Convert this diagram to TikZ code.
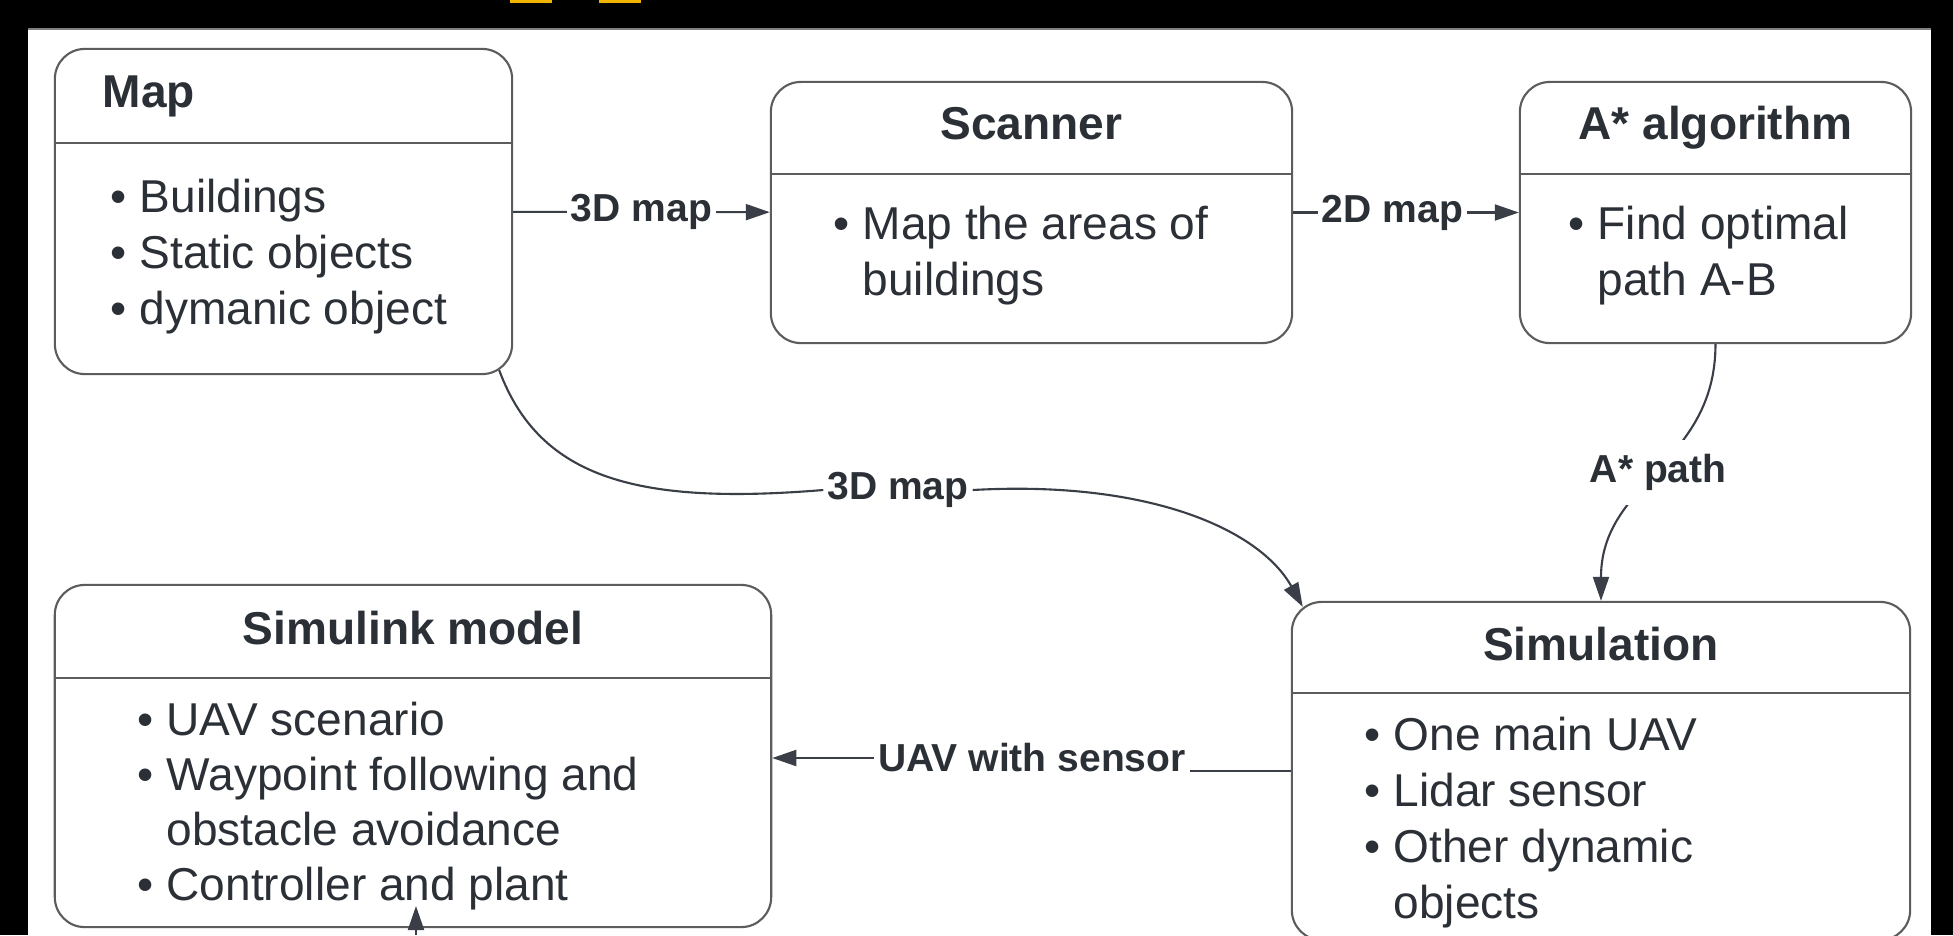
\documentclass[tikz,border=0pt]{standalone}
\usepackage{fontspec}
\setmainfont{Liberation Sans}
\usetikzlibrary{arrows.meta}
\definecolor{ink}{HTML}{2B2F36}
\definecolor{edgec}{HTML}{5C5C5C}
\definecolor{linec}{HTML}{3A3F47}
\definecolor{gold}{HTML}{F0B400}
\newcommand{\blt}{\llap{•\hspace{0.13cm}}}

\begin{document}
\begin{tikzpicture}[x=0.01cm, y=-0.01cm]
  \tikzstyle{block} = [rectangle, rounded corners=0.3cm, draw=edgec, fill=white, line width=0.6pt]
  \tikzstyle{heading} = [font=\bfseries\fontsize{13.1pt}{15.9pt}\selectfont, text=ink, inner sep=0pt]
  \tikzstyle{entry} = [anchor=base west, font=\fontsize{13.1pt}{15.9pt}\selectfont, text=ink, inner sep=0pt]
  \tikzstyle{tag} = [font=\bfseries\fontsize{11.1pt}{13pt}\selectfont, text=ink, fill=white, inner xsep=1pt, inner ysep=2pt]
  \tikzstyle{divider} = [draw=edgec, line width=0.6pt]
  \tikzstyle{wire} = [draw=linec, line width=0.6pt]
  \tikzstyle{arrow} = [wire, -{Triangle[length=0.24cm, width=0.16cm]}]

  % frame
  \useasboundingbox (0,0) rectangle (1953,935);
  \fill[black] (0,0) rectangle (1953,935);
  \fill[white] (28,29) rectangle (1931,935);
  \draw[gray, line width=0.3pt] (28,29) -- (1931,29);
  \fill[gold] (510,0) rectangle (552,2.5);
  \fill[gold] (599,0) rectangle (641,2.5);

  % boxes
  \node [block, minimum width=4.57cm, minimum height=3.25cm] at (283.5,211.5) (map) {};
  \node [block, minimum width=5.21cm, minimum height=2.61cm] at (1031.5,212.5) (scanner) {};
  \node [block, minimum width=3.91cm, minimum height=2.61cm] at (1715.5,212.5) (astar) {};
  \node [block, minimum width=7.16cm, minimum height=3.42cm] at (413,756) (simlink) {};
  \node [block, minimum width=6.18cm, minimum height=3.38cm] at (1601,771) (sim) {};

  \draw[divider] (55,143) -- (512,143);
  \draw[divider] (771,174) -- (1292,174);
  \draw[divider] (1520,174) -- (1911,174);
  \draw[divider] (55,678) -- (771,678);
  \draw[divider] (1292,693) -- (1910,693);

  % titles
  \node [heading, anchor=base west] at (102,107) (map_title) {Map};
  \node [heading, anchor=base] at (1031.5,139) (scanner_title) {Scanner};
  \node [heading, anchor=base] at (1715.5,139) (astar_title) {A* algorithm};
  \node [heading, anchor=base] at (413,644) (simlink_title) {Simulink model};
  \node [heading, anchor=base] at (1601,660) (sim_title) {Simulation};

  % bullet lists
  \node [entry] at (139,212) (map_b1) {\blt Buildings};
  \node [entry] at (139,268) (map_b2) {\blt Static objects};
  \node [entry] at (139,324) (map_b3) {\blt dymanic object};
  \node [entry] at (862,239) (scanner_b1) {\blt Map the areas of};
  \node [entry] at (862,295) (scanner_b2) {buildings};
  \node [entry] at (1597,239) (astar_b1) {\blt Find optimal};
  \node [entry] at (1597,295) (astar_b2) {path A-B};
  \node [entry] at (166,735) (simlink_b1) {\blt UAV scenario};
  \node [entry] at (166,790) (simlink_b2) {\blt Waypoint following and};
  \node [entry] at (166,845) (simlink_b3) {obstacle avoidance};
  \node [entry] at (166,900) (simlink_b4) {\blt Controller and plant};
  \node [entry] at (1393,750) (sim_b1) {\blt One main UAV};
  \node [entry] at (1393,806) (sim_b2) {\blt Lidar sensor};
  \node [entry] at (1393,862) (sim_b3) {\blt Other dynamic};
  \node [entry] at (1393,918) (sim_b4) {objects};

  % connectors
  \draw[arrow] (map) -- node[tag] (map_lbl) {3D map} (scanner);
  \draw[arrow] (scanner) -- node[tag, pos=0.44] (scan_lbl) {2D map} (astar);
  \draw[arrow] (astar.south) .. controls +(0,120) and +(0,-120) .. node[tag, inner ysep=4pt] (path_lbl) {A* path} (sim.north);

  \node [tag] at (898,490) (mid_lbl) {3D map};
  \draw[wire] ([shift={(-14,-5)}]map.south east) .. controls (540,480) and (640,505) .. (mid_lbl.west);
  \draw[arrow] (mid_lbl.east) .. controls (1150,480) and (1260,530) .. ([shift={(12,6)}]sim.north west);

  \node [tag] at (1032,758) (uav_lbl) {UAV with sensor};
  \draw[wire] (sim.west) -- (sim.west -| uav_lbl.east);
  \draw[arrow] (uav_lbl.west) -- (uav_lbl.west -| simlink.east);

  \coordinate (ctrl_tail) at (416,935);
  \coordinate (ctrl_tip) at (416,906);
  \draw[arrow] (ctrl_tail) -- (ctrl_tip);
\end{tikzpicture}
\end{document}
